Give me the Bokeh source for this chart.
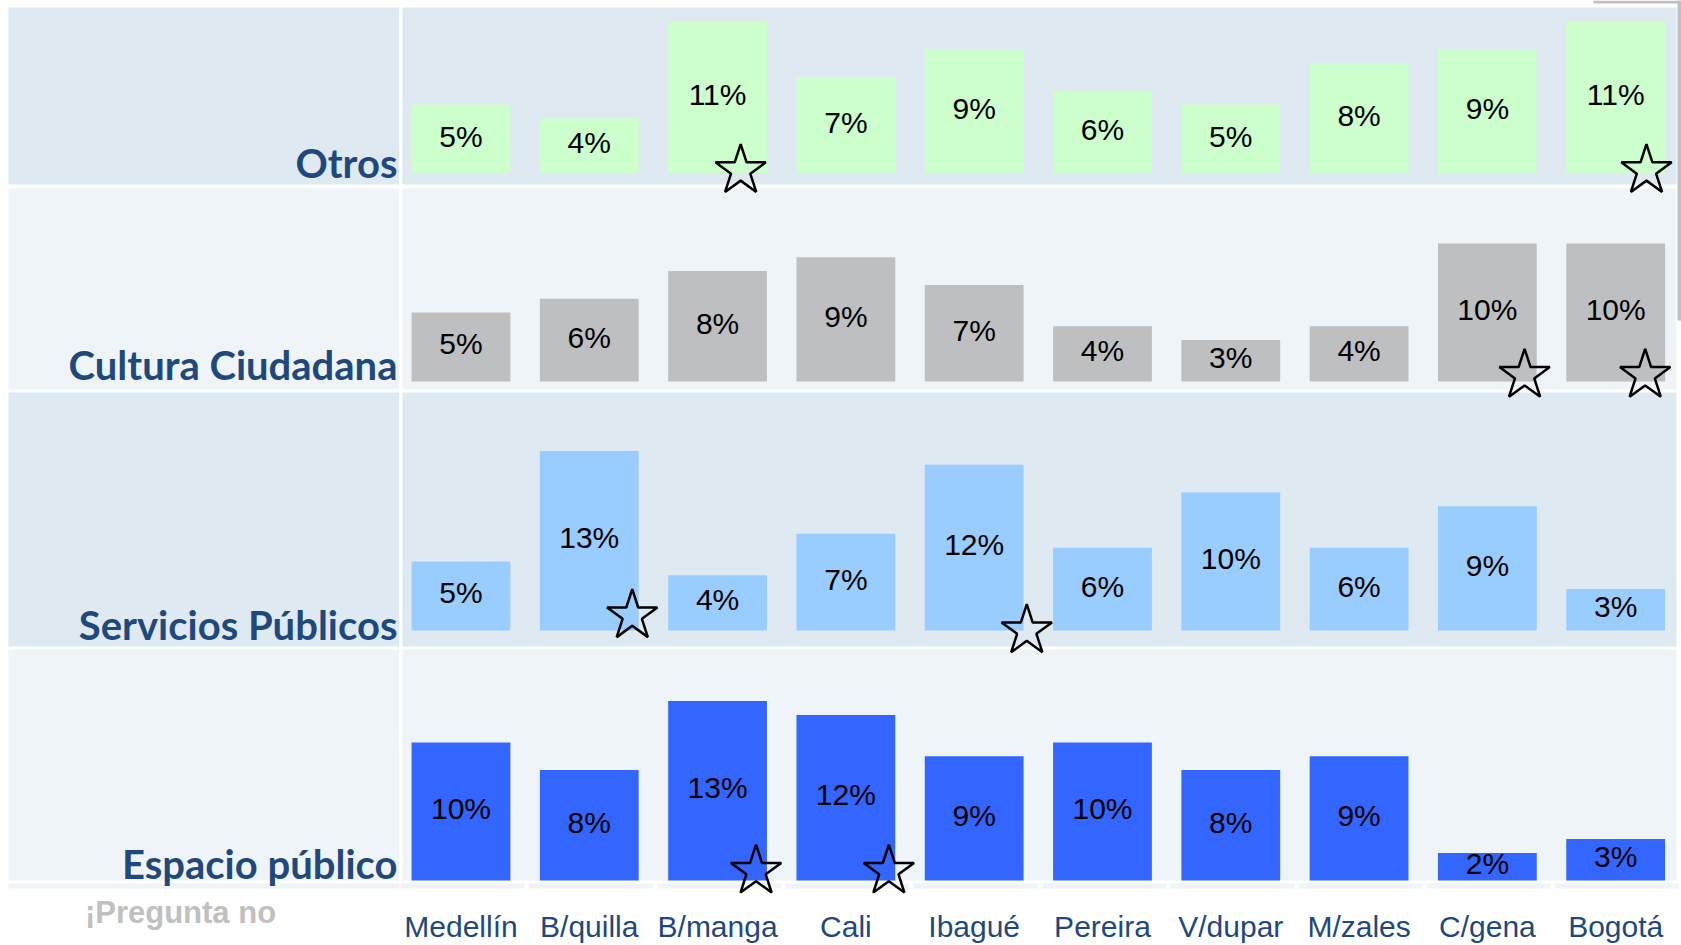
from bokeh.plotting import figure
from bokeh.models import ColumnDataSource, Range1d
from bokeh.core.properties import value
from bokeh.embed import file_html
from bokeh.resources import INLINE

# ---------------- data ----------------
cities = ["Medellín", "B/quilla", "B/manga", "Cali", "Ibagué",
          "Pereira", "V/dupar", "M/zales", "C/gena", "Bogotá"]
row_names = ["Otros", "Cultura Ciudadana", "Servicios Públicos", "Espacio público"]
otros = [5, 4, 11, 7, 9, 6, 5, 8, 9, 11]
cultura = [5, 6, 8, 9, 7, 4, 3, 4, 10, 10]
servicios = [5, 13, 4, 7, 12, 6, 10, 6, 9, 3]
espacio = [10, 8, 13, 12, 9, 10, 8, 9, 2, 3]
stars_otros = ["B/manga", "Bogotá"]
stars_cultura = ["C/gena", "Bogotá"]
stars_servicios = ["B/quilla", "Ibagué"]
stars_espacio = ["B/manga", "Cali"]
note = "¡Pregunta no"

# ---------------- layout (styles / positions) ----------------
X0, X1 = -3.589, 9.513
Y0, Y1 = -4.13, 64.35
LABEL_COL = (-3.527, -0.482)
DATA_COL = (-0.456, 9.474)
BG_DARK = "#dfe9f1"
BG_LIGHT = "#eff4f8"
TXT_BLUE = "#1f497d"

rows = [
    # values, stars, bar colour, baseline, band bottom, band top, band colour, label y,
    # star x shifts, star y shifts (placement of the markers)
    (otros, stars_otros, "#ccffcc", 51.81, 51.01, 63.84, BG_DARK, 52.61, [0.18, 0.24], [0.22, 0.22]),
    (cultura, stars_cultura, "#bebfc1", 36.74, 36.16, 50.72, BG_LIGHT, 37.97, [0.29, 0.23], [0.45, 0.45]),
    (servicios, stars_servicios, "#99ccff", 18.70, 17.54, 35.94, BG_DARK, 19.13, [0.335, 0.41], [1.07, -0.02]),
    (espacio, stars_espacio, "#3366ff", 0.58, 0.58, 17.32, BG_LIGHT, 1.81, [0.30, 0.335], [0.68, 0.68]),
]

p = figure(width=1681, height=945, x_range=Range1d(X0, X1), y_range=Range1d(Y0, Y1),
           output_backend="svg", toolbar_location=None,
           x_axis_location=None, y_axis_location=None,
           min_border_left=0, min_border_right=0, min_border_top=0, min_border_bottom=0)
p.outline_line_color = None
p.background_fill_color = "white"
p.border_fill_color = "white"
p.grid.visible = False

# row backgrounds (label column + data column)
bl, br, bb, bt, bc = [], [], [], [], []
for r in rows:
    for (l, rr) in (LABEL_COL, DATA_COL):
        bl.append(l); br.append(rr); bb.append(r[4]); bt.append(r[5]); bc.append(r[6])
# thin strip under the table
bl.append(LABEL_COL[0]); br.append(LABEL_COL[1]); bb.append(0.0); bt.append(0.36); bc.append(BG_LIGHT)
for i in range(len(cities)):
    bl.append(i - 0.47); br.append(i + 0.495); bb.append(0.0); bt.append(0.36); bc.append(BG_LIGHT)
p.quad(left=bl, right=br, bottom=bb, top=bt, fill_color=bc, line_color=None)

# slide shadow in the top-right corner
p.quad(left=[8.827, 9.482], right=[9.513, 9.513], bottom=[64.13, 41.16], top=[64.35, 64.35],
       fill_color="#c0c0c0", line_color=None)

# bars, value labels, stars
for vals, st, col, base, b0, b1, bg, lb, sdx, sdy in rows:
    src = ColumnDataSource(dict(
        x=list(range(len(cities))),
        bottom=[base] * len(vals),
        top=[base + v for v in vals],
        mid=[base + v / 2 + 0.22 for v in vals],
        label=[f"{v}%" for v in vals],
    ))
    p.vbar(x="x", width=0.77, bottom="bottom", top="top", source=src,
           fill_color=col, line_color=None)
    p.text(x="x", y="mid", text="label", source=src, text_align="center",
           text_baseline="middle", text_font=value("Liberation Sans"),
           text_font_size="30px", text_color="black")
    ssrc = ColumnDataSource(dict(
        x=[cities.index(c) + dx for c, dx in zip(st, sdx)],
        y=[base + dy for dy in sdy],
    ))
    p.scatter(x="x", y="y", source=ssrc, marker="star", size=53,
              fill_alpha=0, line_color="black", line_width=2.5)

# row labels
p.text(x=[-0.495] * 4, y=[r[7] for r in rows], text=row_names, text_align="right",
       text_baseline="alphabetic", text_font=value("Lato"), text_font_style="bold",
       text_font_size="40px", text_color=TXT_BLUE)

# category labels under the bars
p.text(x=list(range(len(cities))), y=[-2.75] * len(cities), text=cities,
       text_align="center", text_baseline="alphabetic",
       text_font=value("Liberation Sans"), text_font_size="30px", text_color=TXT_BLUE)

# grey note in the label column
p.text(x=[-2.186], y=[-1.74], text=[note], text_align="center",
       text_baseline="alphabetic", text_font=value("Liberation Sans"),
       text_font_style="bold", text_font_size="31px", text_color="#c0c0c0")

open("out.html", "w").write(file_html(p, INLINE))
